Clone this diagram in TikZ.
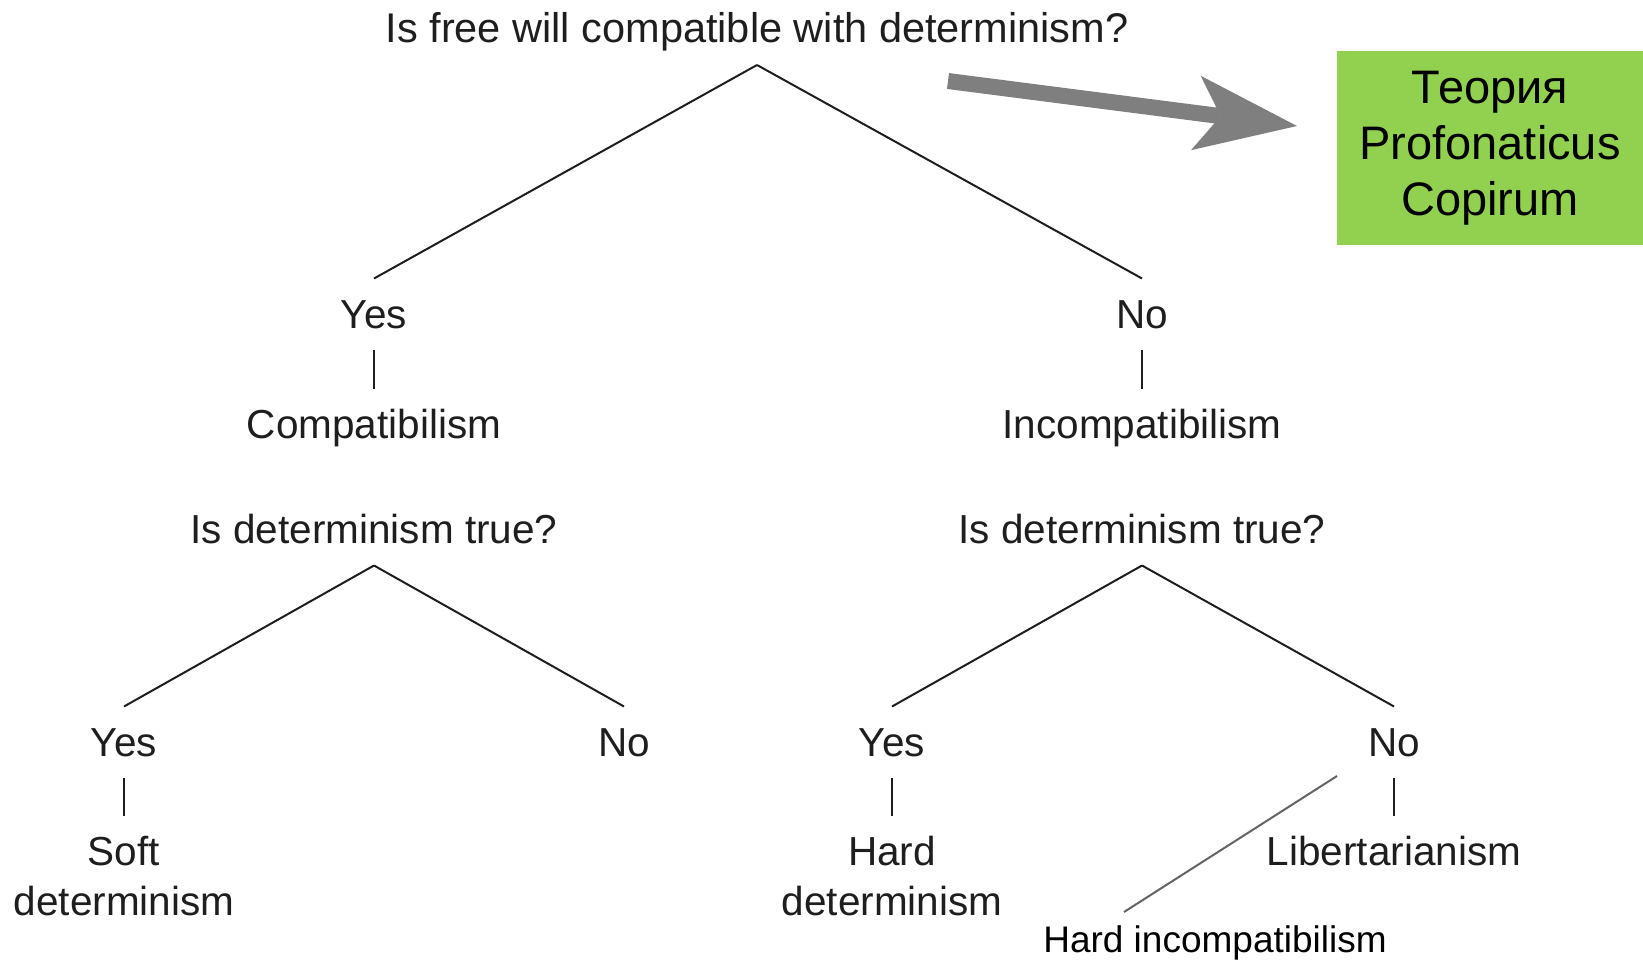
\documentclass[tikz,border=0pt]{standalone}
\usepackage{fontspec}
\setmainfont{Liberation Sans}
\usetikzlibrary{arrows.meta}
\definecolor{boxgreen}{RGB}{146,208,80}
\definecolor{arrgray}{RGB}{127,127,127}
\definecolor{txtdark}{RGB}{30,30,30}
\definecolor{notegray}{RGB}{100,100,100}
\begin{document}
\begin{tikzpicture}[x=1pt,y=-1pt,
  lbl/.style={anchor=base, inner sep=0pt, outer sep=21pt, text height=29pt, text depth=0pt,
    font=\fontsize{40.5}{48}\selectfont, text=txtdark},
  ques/.style={lbl, outer sep=22pt},
  treeline/.style={line width=2pt, draw=txtdark},
  noteline/.style={line width=2pt, draw=notegray},
  bigarrow/.style={draw=arrgray, line width=16pt,
    -{Stealth[length=102pt,width=75pt,inset=25pt,line width=0pt]}},
  greenbox/.style={fill=boxgreen, minimum width=306pt, minimum height=193pt, inner sep=0pt,
    align=center, font=\fontsize{47}{56}\selectfont, text=black},
  notelbl/.style={inner sep=0pt, font=\fontsize{37}{44}\selectfont, text=black}
]
\useasboundingbox (0,0) rectangle (1643,963);

% top level
\node[ques, font=\fontsize{41.5}{48}\selectfont] (q1) at (757,43) {Is free will compatible with determinism?};
\node[lbl] (yes1) at (374,328.5) {Yes};
\node[lbl] (no1) at (1142,328.5) {No};
\node[lbl] (comp) at (374,438.5) {Compatibilism};
\node[lbl] (incomp) at (1142,438.5) {Incompatibilism};
\draw[treeline] (q1.south) -- (yes1.north);
\draw[treeline] (q1.south) -- (no1.north);
\draw[treeline] (yes1.south) -- (comp.north);
\draw[treeline] (no1.south) -- (incomp.north);

% left subtree
\node[ques] (q2l) at (374,543.5) {Is determinism true?};
\node[lbl] (yes2l) at (124,756.5) {Yes};
\node[lbl] (no2l) at (624,756.5) {No};
\node[lbl] (soft) at (124,865.5) {Soft};
\node[lbl] (softb) at (124,915.5) {determinism};
\draw[treeline] (q2l.south) -- (yes2l.north);
\draw[treeline] (q2l.south) -- (no2l.north);
\draw[treeline] (yes2l.south) -- (soft.north);

% right subtree
\node[ques] (q2r) at (1142,543.5) {Is determinism true?};
\node[lbl] (yes2r) at (892,756.5) {Yes};
\node[lbl] (no2r) at (1394,756.5) {No};
\node[lbl] (hard) at (892,865.5) {Hard};
\node[lbl] (hardb) at (892,915.5) {determinism};
\node[lbl] (lib) at (1394,865.5) {Libertarianism};
\draw[treeline] (q2r.south) -- (yes2r.north);
\draw[treeline] (q2r.south) -- (no2r.north);
\draw[treeline] (yes2r.south) -- (hard.north);
\draw[treeline] (no2r.south) -- (lib.north);

% annotation
\node[notelbl] (hi) at (1215,943) {Hard incompatibilism};
\coordinate (hiA) at (1337,776);
\coordinate (hiB) at (1124,912);
\draw[noteline] (hiA) -- (hiB);

% green box and arrow
\node[greenbox] (box) at (1490,148) {Теория\\Profonaticus\\Copirum};
\coordinate (arrtail) at (948,81);
\coordinate (arrtip) at (1297,126);
\draw[bigarrow] (arrtail) -- (arrtip);
\end{tikzpicture}
\end{document}
